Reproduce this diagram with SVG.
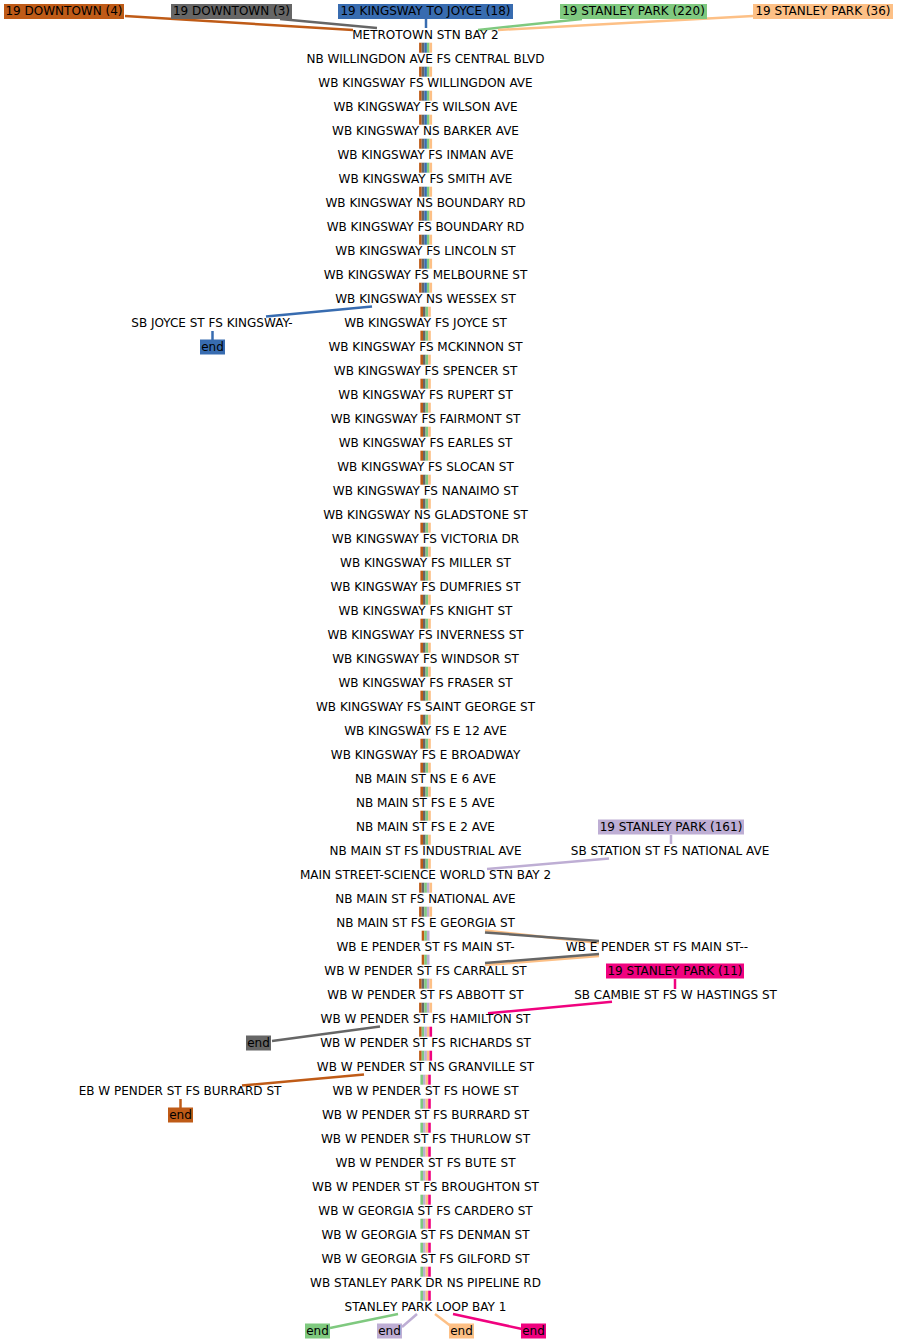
<svg xmlns="http://www.w3.org/2000/svg" xmlns:xlink="http://www.w3.org/1999/xlink" width="897" height="1344" viewBox="0 0 897 1344">
<style>
text{font-family:"DejaVu Sans","Liberation Sans",sans-serif;font-size:12px;fill:#000;text-anchor:middle}
.c{fill:none;stroke-width:2.5;stroke-linecap:butt}
.br{stroke:#bf5b17}.gy{stroke:#666666}.bl{stroke:#386cb0}.gn{stroke:#7fc97f}.pu{stroke:#beaed4}.pe{stroke:#fdc086}.pk{stroke:#f0027f}
.fbr{fill:#bf5b17}.fgy{fill:#666666}.fbl{fill:#386cb0}.fgn{fill:#7fc97f}.fpu{fill:#beaed4}.fpe{fill:#fdc086}.fpk{fill:#f0027f}
</style>
<defs>
<g id="bA"><rect x="419.1" width="2.6" height="10" class="fbr"/><rect x="421.7" width="2.6" height="10" class="fgy"/><rect x="424.3" width="2.6" height="10" class="fbl"/><rect x="426.9" width="2.6" height="10" class="fgn"/><rect x="429.5" width="2.6" height="10" class="fpe"/></g>
<g id="bB"><rect x="420.4" width="2.6" height="10" class="fbr"/><rect x="423" width="2.6" height="10" class="fgy"/><rect x="425.6" width="2.6" height="10" class="fgn"/><rect x="428.2" width="2.6" height="10" class="fpe"/></g>
<g id="bC"><rect x="419.1" width="2.6" height="10" class="fbr"/><rect x="421.7" width="2.6" height="10" class="fgy"/><rect x="424.3" width="2.6" height="10" class="fgn"/><rect x="426.9" width="2.6" height="10" class="fpu"/><rect x="429.5" width="2.6" height="10" class="fpe"/></g>
<g id="bD"><rect x="421.7" width="2.6" height="10" class="fbr"/><rect x="424.3" width="2.6" height="10" class="fgn"/><rect x="426.9" width="2.6" height="10" class="fpu"/></g>
<g id="bE"><rect x="419.1" width="2.6" height="10" class="fbr"/><rect x="421.7" width="2.6" height="10" class="fgn"/><rect x="424.3" width="2.6" height="10" class="fpu"/><rect x="426.9" width="2.6" height="10" class="fpe"/><rect x="429.5" width="2.6" height="10" class="fpk"/></g>
<g id="bF"><rect x="420.4" width="2.6" height="10" class="fgn"/><rect x="423" width="2.6" height="10" class="fpu"/><rect x="425.6" width="2.6" height="10" class="fpe"/><rect x="428.2" width="2.6" height="10" class="fpk"/></g>
</defs>
<rect width="897" height="1344" fill="#fff"/>
<g id="connectors">
<line class="c br" x1="125" y1="16" x2="353" y2="30"/>
<line class="c gy" x1="280" y1="19" x2="377" y2="28"/>
<line class="c bl" x1="426" y1="19" x2="426" y2="28"/>
<line class="c gn" x1="582" y1="19" x2="478" y2="30"/>
<line class="c pe" x1="753" y1="16" x2="498" y2="30"/>
<use href="#bA" y="42.7"/><use href="#bA" y="66.7"/><use href="#bA" y="90.7"/><use href="#bA" y="114.7"/><use href="#bA" y="138.7"/><use href="#bA" y="162.7"/><use href="#bA" y="186.7"/><use href="#bA" y="210.7"/><use href="#bA" y="234.7"/><use href="#bA" y="258.7"/><use href="#bA" y="282.7"/>
<use href="#bB" y="306.7"/><use href="#bB" y="330.7"/><use href="#bB" y="354.7"/><use href="#bB" y="378.7"/><use href="#bB" y="402.7"/><use href="#bB" y="426.7"/><use href="#bB" y="450.7"/><use href="#bB" y="474.7"/><use href="#bB" y="498.7"/><use href="#bB" y="522.7"/><use href="#bB" y="546.7"/><use href="#bB" y="570.7"/><use href="#bB" y="594.7"/><use href="#bB" y="618.7"/><use href="#bB" y="642.7"/><use href="#bB" y="666.7"/><use href="#bB" y="690.7"/><use href="#bB" y="714.7"/><use href="#bB" y="738.7"/><use href="#bB" y="762.7"/><use href="#bB" y="786.7"/><use href="#bB" y="810.7"/><use href="#bB" y="834.7"/><use href="#bB" y="858.7"/>
<use href="#bC" y="882.7"/><use href="#bC" y="906.7"/>
<use href="#bD" y="930.7"/><use href="#bD" y="954.7"/>
<use href="#bC" y="978.7"/><use href="#bC" y="1002.7"/>
<use href="#bE" y="1026.7"/><use href="#bE" y="1050.7"/>
<use href="#bF" y="1074.7"/><use href="#bF" y="1098.7"/><use href="#bF" y="1122.7"/><use href="#bF" y="1146.7"/><use href="#bF" y="1170.7"/><use href="#bF" y="1194.7"/><use href="#bF" y="1218.7"/><use href="#bF" y="1242.7"/><use href="#bF" y="1266.7"/><use href="#bF" y="1290.7"/>
<line class="c bl" x1="372" y1="306.5" x2="266" y2="316.5"/>
<line class="c bl" x1="212.5" y1="331" x2="212.5" y2="340.5"/>
<line class="c pu" x1="671" y1="835" x2="671" y2="844"/>
<line class="c pu" x1="609" y1="858.5" x2="487" y2="869"/>
<line class="c pe" x1="485" y1="930.5" x2="599" y2="943"/>
<line class="c gy" x1="485" y1="932.5" x2="599" y2="941"/>
<line class="c pe" x1="599" y1="956" x2="485" y2="965"/>
<line class="c gy" x1="599" y1="954" x2="485" y2="963"/>
<line class="c pk" x1="675" y1="979" x2="675" y2="989"/>
<line class="c pk" x1="612" y1="1001.7" x2="488" y2="1013.3"/>
<line class="c gy" x1="380" y1="1026.5" x2="272" y2="1041"/>
<line class="c br" x1="364" y1="1074.5" x2="242" y2="1085.5"/>
<line class="c br" x1="180.5" y1="1099" x2="180.5" y2="1108.5"/>
<line class="c gn" x1="398" y1="1314" x2="330" y2="1328"/>
<line class="c pu" x1="417" y1="1314" x2="402" y2="1327"/>
<line class="c pe" x1="435" y1="1314" x2="452" y2="1327"/>
<line class="c pk" x1="453" y1="1314" x2="522" y2="1329"/>
</g>
<g id="lbl-downtown4"><rect x="4" y="4" width="120" height="15" class="fbr"/><text x="64" y="15">19 DOWNTOWN (4)</text></g>
<g id="lbl-downtown3"><rect x="171" y="4" width="121" height="15" class="fgy"/><text x="231.5" y="15">19 DOWNTOWN (3)</text></g>
<g id="lbl-kingsway18"><rect x="338" y="4" width="175" height="15" class="fbl"/><text x="425.5" y="15">19 KINGSWAY TO JOYCE (18)</text></g>
<g id="lbl-stanley220"><rect x="560" y="4" width="147" height="15" class="fgn"/><text x="633.5" y="15">19 STANLEY PARK (220)</text></g>
<g id="lbl-stanley36"><rect x="753" y="4" width="140" height="15" class="fpe"/><text x="823" y="15">19 STANLEY PARK (36)</text></g>
<g id="lbl-stanley161"><rect x="598" y="819.5" width="146" height="15" class="fpu"/><text x="671" y="830.5">19 STANLEY PARK (161)</text></g>
<g id="lbl-stanley11"><rect x="606" y="963.5" width="138" height="15" class="fpk"/><text x="675" y="974.5">19 STANLEY PARK (11)</text></g>
<g id="s0"><text x="425.5" y="38.5">METROTOWN STN BAY 2</text></g>
<g id="s1"><text x="425.5" y="62.5">NB WILLINGDON AVE FS CENTRAL BLVD</text></g>
<g id="s2"><text x="425.5" y="86.5">WB KINGSWAY FS WILLINGDON AVE</text></g>
<g id="s3"><text x="425.5" y="110.5">WB KINGSWAY FS WILSON AVE</text></g>
<g id="s4"><text x="425.5" y="134.5">WB KINGSWAY NS BARKER AVE</text></g>
<g id="s5"><text x="425.5" y="158.5">WB KINGSWAY FS INMAN AVE</text></g>
<g id="s6"><text x="425.5" y="182.5">WB KINGSWAY FS SMITH AVE</text></g>
<g id="s7"><text x="425.5" y="206.5">WB KINGSWAY NS BOUNDARY RD</text></g>
<g id="s8"><text x="425.5" y="230.5">WB KINGSWAY FS BOUNDARY RD</text></g>
<g id="s9"><text x="425.5" y="254.5">WB KINGSWAY FS LINCOLN ST</text></g>
<g id="s10"><text x="425.5" y="278.5">WB KINGSWAY FS MELBOURNE ST</text></g>
<g id="s11"><text x="425.5" y="302.5">WB KINGSWAY NS WESSEX ST</text></g>
<g id="s12"><text x="425.5" y="326.5">WB KINGSWAY FS JOYCE ST</text></g>
<g id="s13"><text x="425.5" y="350.5">WB KINGSWAY FS MCKINNON ST</text></g>
<g id="s14"><text x="425.5" y="374.5">WB KINGSWAY FS SPENCER ST</text></g>
<g id="s15"><text x="425.5" y="398.5">WB KINGSWAY FS RUPERT ST</text></g>
<g id="s16"><text x="425.5" y="422.5">WB KINGSWAY FS FAIRMONT ST</text></g>
<g id="s17"><text x="425.5" y="446.5">WB KINGSWAY FS EARLES ST</text></g>
<g id="s18"><text x="425.5" y="470.5">WB KINGSWAY FS SLOCAN ST</text></g>
<g id="s19"><text x="425.5" y="494.5">WB KINGSWAY FS NANAIMO ST</text></g>
<g id="s20"><text x="425.5" y="518.5">WB KINGSWAY NS GLADSTONE ST</text></g>
<g id="s21"><text x="425.5" y="542.5">WB KINGSWAY FS VICTORIA DR</text></g>
<g id="s22"><text x="425.5" y="566.5">WB KINGSWAY FS MILLER ST</text></g>
<g id="s23"><text x="425.5" y="590.5">WB KINGSWAY FS DUMFRIES ST</text></g>
<g id="s24"><text x="425.5" y="614.5">WB KINGSWAY FS KNIGHT ST</text></g>
<g id="s25"><text x="425.5" y="638.5">WB KINGSWAY FS INVERNESS ST</text></g>
<g id="s26"><text x="425.5" y="662.5">WB KINGSWAY FS WINDSOR ST</text></g>
<g id="s27"><text x="425.5" y="686.5">WB KINGSWAY FS FRASER ST</text></g>
<g id="s28"><text x="425.5" y="710.5">WB KINGSWAY FS SAINT GEORGE ST</text></g>
<g id="s29"><text x="425.5" y="734.5">WB KINGSWAY FS E 12 AVE</text></g>
<g id="s30"><text x="425.5" y="758.5">WB KINGSWAY FS E BROADWAY</text></g>
<g id="s31"><text x="425.5" y="782.5">NB MAIN ST NS E 6 AVE</text></g>
<g id="s32"><text x="425.5" y="806.5">NB MAIN ST FS E 5 AVE</text></g>
<g id="s33"><text x="425.5" y="830.5">NB MAIN ST FS E 2 AVE</text></g>
<g id="s34"><text x="425.5" y="854.5">NB MAIN ST FS INDUSTRIAL AVE</text></g>
<g id="s35"><text x="425.5" y="878.5">MAIN STREET-SCIENCE WORLD STN BAY 2</text></g>
<g id="s36"><text x="425.5" y="902.5">NB MAIN ST FS NATIONAL AVE</text></g>
<g id="s37"><text x="425.5" y="926.5">NB MAIN ST FS E GEORGIA ST</text></g>
<g id="s38"><text x="425.5" y="950.5">WB E PENDER ST FS MAIN ST-</text></g>
<g id="s39"><text x="425.5" y="974.5">WB W PENDER ST FS CARRALL ST</text></g>
<g id="s40"><text x="425.5" y="998.5">WB W PENDER ST FS ABBOTT ST</text></g>
<g id="s41"><text x="425.5" y="1022.5">WB W PENDER ST FS HAMILTON ST</text></g>
<g id="s42"><text x="425.5" y="1046.5">WB W PENDER ST FS RICHARDS ST</text></g>
<g id="s43"><text x="425.5" y="1070.5">WB W PENDER ST NS GRANVILLE ST</text></g>
<g id="s44"><text x="425.5" y="1094.5">WB W PENDER ST FS HOWE ST</text></g>
<g id="s45"><text x="425.5" y="1118.5">WB W PENDER ST FS BURRARD ST</text></g>
<g id="s46"><text x="425.5" y="1142.5">WB W PENDER ST FS THURLOW ST</text></g>
<g id="s47"><text x="425.5" y="1166.5">WB W PENDER ST FS BUTE ST</text></g>
<g id="s48"><text x="425.5" y="1190.5">WB W PENDER ST FS BROUGHTON ST</text></g>
<g id="s49"><text x="425.5" y="1214.5">WB W GEORGIA ST FS CARDERO ST</text></g>
<g id="s50"><text x="425.5" y="1238.5">WB W GEORGIA ST FS DENMAN ST</text></g>
<g id="s51"><text x="425.5" y="1262.5">WB W GEORGIA ST FS GILFORD ST</text></g>
<g id="s52"><text x="425.5" y="1286.5">WB STANLEY PARK DR NS PIPELINE RD</text></g>
<g id="s53"><text x="425.5" y="1310.5">STANLEY PARK LOOP BAY 1</text></g>
<g id="sb-joyce"><text x="212" y="326.5">SB JOYCE ST FS KINGSWAY-</text></g>
<g id="end-blue"><rect x="200" y="339.5" width="25" height="15" class="fbl"/><text x="212.5" y="350.5">end</text></g>
<g id="sb-station"><text x="670" y="854.5">SB STATION ST FS NATIONAL AVE</text></g>
<g id="wb-epender2"><text x="657" y="950.5">WB E PENDER ST FS MAIN ST--</text></g>
<g id="sb-cambie"><text x="675.5" y="998.5">SB CAMBIE ST FS W HASTINGS ST</text></g>
<g id="end-gray"><rect x="246" y="1035.5" width="25" height="15" class="fgy"/><text x="258.5" y="1046.5">end</text></g>
<g id="eb-burrard"><text x="180" y="1094.5">EB W PENDER ST FS BURRARD ST</text></g>
<g id="end-brown"><rect x="168" y="1107.5" width="25" height="15" class="fbr"/><text x="180.5" y="1118.5">end</text></g>
<g id="end-green"><rect x="305" y="1323.5" width="25" height="15" class="fgn"/><text x="317.5" y="1334.5">end</text></g>
<g id="end-purple"><rect x="377" y="1323.5" width="25" height="15" class="fpu"/><text x="389.5" y="1334.5">end</text></g>
<g id="end-peach"><rect x="449" y="1323.5" width="25" height="15" class="fpe"/><text x="461.5" y="1334.5">end</text></g>
<g id="end-pink"><rect x="521" y="1323.5" width="25" height="15" class="fpk"/><text x="533.5" y="1334.5">end</text></g>
</svg>
